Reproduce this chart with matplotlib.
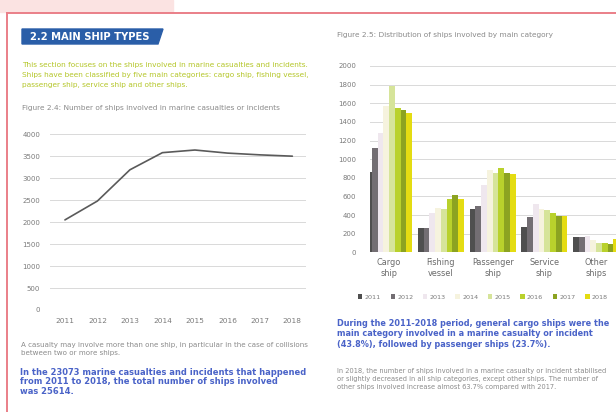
import matplotlib
matplotlib.use("Agg")
import matplotlib.pyplot as plt
import numpy as np
from matplotlib.patches import Rectangle, Polygon

plt.rcParams['font.family'] = ['DejaVu Sans']

# ---------------------------------------------------------------- data
years = ['2011', '2012', '2013', '2014', '2015', '2016', '2017', '2018']
ships_total = [2050, 2480, 3190, 3580, 3640, 3570, 3530, 3500]

categories = ['Cargo\nship', 'Fishing\nvessel', 'Passenger\nship',
              'Service\nship', 'Other\nships']
cargo = [865, 1125, 1285, 1570, 1790, 1550, 1530, 1495]
fishing = [262, 262, 420, 475, 465, 575, 610, 575]
passenger = [465, 500, 720, 880, 850, 900, 855, 840]
service = [275, 380, 520, 470, 455, 420, 395, 395]
other = [168, 160, 170, 130, 103, 103, 88, 144]

year_colors = ['#4f4f4f', '#736e73', '#efe7ee', '#f6f3de',
               '#d6e49a', '#b9d12c', '#8ca321', '#e4dc12']

W, H = 616, 412
fig = plt.figure(figsize=(W / 100, H / 100), dpi=100)


def fx(x):
    return x / W


def fy(y):
    return 1 - y / H


def box(x0, y0, x1, y1):
    # pixel box (top-left origin) -> fig rect
    return [fx(x0), fy(y1), fx(x1) - fx(x0), fy(y0) - fy(y1)]


# ---------------------------------------------------------------- page decor
fig.patches.append(Rectangle((0, fy(12)), fx(173), 12 / H, transform=fig.transFigure,
                             color='#fbe3e2', zorder=0))
fig.add_artist(plt.Line2D([fx(7), 1], [fy(13), fy(13)], color='#ea7f88', lw=1.4))
fig.add_artist(plt.Line2D([fx(7), fx(7)], [fy(13), 0], color='#ea7f88', lw=1.4))

fig.patches.append(Polygon([(fx(22), fy(29)), (fx(163), fy(29)),
                            (fx(158), fy(44)), (fx(22), fy(44))],
                           closed=True, transform=fig.transFigure,
                           color='#2a5ea8', zorder=1))
fig.text(fx(30), fy(36.5), '2.2 MAIN SHIP TYPES', color='white', fontsize=7.2,
         fontweight='bold', va='center', ha='left')

green = '#b4c628'
fig.text(fx(22), fy(75), 'This section focuses on the ships involved in marine casualties and incidents.\n'
         'Ships have been classified by five main categories: cargo ship, fishing vessel,\n'
         'passenger ship, service ship and other ships.',
         color=green, fontsize=5.3, va='center', ha='left', linespacing=1.75)

gray = '#8a8a8a'
fig.text(fx(22), fy(108), 'Figure 2.4: Number of ships involved in marine casualties or incidents',
         color=gray, fontsize=5.3, va='center', ha='left')
fig.text(fx(337), fy(35), 'Figure 2.5: Distribution of ships involved by main category',
         color=gray, fontsize=5.3, va='center', ha='left')

# ---------------------------------------------------------------- line chart
ax1 = fig.add_axes(box(50, 132, 306, 310))
x = np.arange(len(years))
ax1.plot(x, ships_total, color='#5a5a5a', lw=1.2, solid_capstyle='round', zorder=3)
ax1.set_xlim(-0.46, 7.42)
ax1.set_ylim(0, 4050)
ax1.set_yticks(np.arange(0, 4001, 500))
ax1.set_xticks(x)
ax1.set_xticklabels(years)
ax1.grid(axis='y', color='#d9d9d9', lw=0.7)
ax1.set_axisbelow(True)
for s in ax1.spines.values():
    s.set_visible(False)
ax1.tick_params(length=0, labelsize=5.0, colors='#7a7a7a', pad=7)
ax1.tick_params(axis='x', labelsize=5.3, pad=6)

fig.text(fx(21), fy(349), 'A casualty may involve more than one ship, in particular in the case of collisions\n'
         'between two or more ships.',
         color=gray, fontsize=5.1, va='center', ha='left', linespacing=1.35)
blue = '#4a63c8'
fig.text(fx(20), fy(382), 'In the 23073 marine casualties and incidents that happened\n'
         'from 2011 to 2018, the total number of ships involved\n'
         'was 25614.',
         color=blue, fontsize=6.0, fontweight='bold', va='center', ha='left', linespacing=1.1)

# ---------------------------------------------------------------- bar chart
ax2 = fig.add_axes(box(370, 63.2, 622, 252.3))
series = np.array([cargo, fishing, passenger, service, other])
xc = np.arange(len(categories))
bw = 0.111
for k, yr in enumerate(years):
    ax2.bar(xc + (k - 3.5) * bw, series[:, k], width=bw, color=year_colors[k],
            label=yr, zorder=3)
ax2.set_xlim(-0.37, 4.5)
ax2.set_ylim(0, 2030)
ax2.set_yticks(np.arange(0, 2001, 200))
ax2.set_xticks(xc)
ax2.set_xticklabels(categories, linespacing=1.25)
ax2.grid(axis='y', color='#d9d9d9', lw=0.7)
ax2.set_axisbelow(True)
for s in ax2.spines.values():
    s.set_visible(False)
ax2.tick_params(axis='y', length=0, labelsize=5.0, colors='#7a7a7a', pad=10)
ax2.tick_params(axis='x', length=0, labelsize=5.9, colors='#6a6a6a', pad=4)

fig.legend(loc='center left', bbox_to_anchor=(fx(358), fy(297)), ncol=8,
           frameon=False, fontsize=4.6, handlelength=0.7, handleheight=0.9,
           handletextpad=0.35, columnspacing=1.5, labelcolor='#7a7a7a',
           borderpad=0, borderaxespad=0)

fig.text(fx(337), fy(334), 'During the 2011-2018 period, general cargo ships were the\n'
         'main category involved in a marine casualty or incident\n'
         '(43.8%), followed by passenger ships (23.7%).',
         color=blue, fontsize=5.9, fontweight='bold', va='center', ha='left', linespacing=1.2)
fig.text(fx(337), fy(379), 'In 2018, the number of ships involved in a marine casualty or incident stabilised\n'
         'or slightly decreased in all ship categories, except other ships. The number of\n'
         'other ships involved increase almost 63.7% compared with 2017.',
         color=gray, fontsize=4.8, va='center', ha='left', linespacing=1.45)

fig.savefig('out.png', dpi=100, facecolor='white')
